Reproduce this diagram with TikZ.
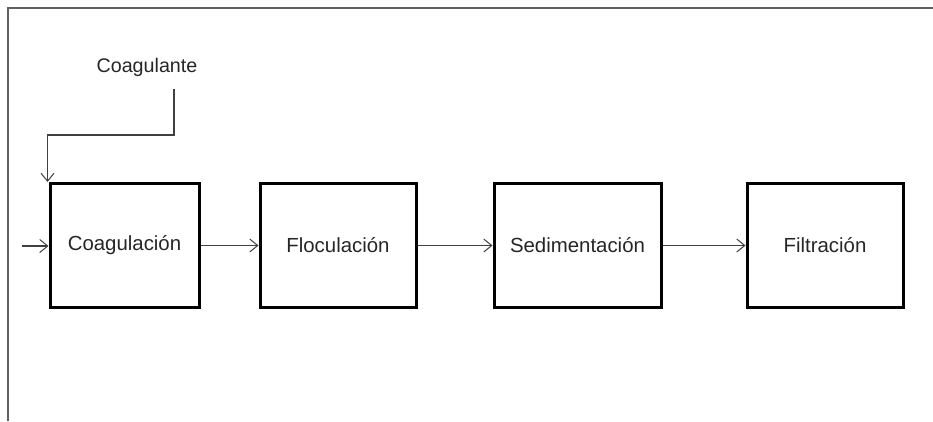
\documentclass[tikz,border=0pt]{standalone}
\usepackage{fontspec}
\setmainfont{Liberation Sans}
\usetikzlibrary{arrows.meta}
\definecolor{linegray}{HTML}{404040}
\definecolor{framegray}{HTML}{606060}
\definecolor{txt}{HTML}{262626}
\begin{document}
\begin{tikzpicture}[x=1pt,y=1pt,
  stagebox/.style={draw=black, line width=3pt, minimum height=124pt, inner sep=0pt,
    text=txt, font=\fontsize{20.4}{24}\selectfont},
  flow/.style={draw=linegray, line width=1.1pt, -{Straight Barb[length=8pt,width=13pt,line width=1pt]}},
  lbl/.style={text=txt, font=\fontsize{19.7}{23}\selectfont, inner sep=0pt}]
\useasboundingbox (0,0) rectangle (933,-421);
% frame
\draw[framegray, line width=1.6pt] (8,-421) -- (8,-8) -- (933,-8);
% stages
\node[stagebox, minimum width=149pt] (c1) at (124.5,-245.5) {Coagulación};
\node[stagebox, minimum width=156pt] (c2) at (338,-245.5) {Floculación};
\node[stagebox, minimum width=167pt] (c3) at (577.5,-245.5) {Sedimentación};
\node[stagebox, minimum width=156pt] (c4) at (825,-245.5) {Filtración};
% input
\coordinate (in) at (22,-246);
\draw[flow] (in) -- (c1.west |- in);
\draw[flow] (c1) -- (c2);
\draw[flow] (c2) -- (c3);
\draw[flow] (c3) -- (c4);
% coagulant
\node[lbl] (coag) at (147,-67) {Coagulante};
\coordinate (cs) at (174,-89);
\draw[flow] (cs) -- ++(0,-46) -| ([xshift=-1pt]c1.north west);
\end{tikzpicture}
\end{document}
